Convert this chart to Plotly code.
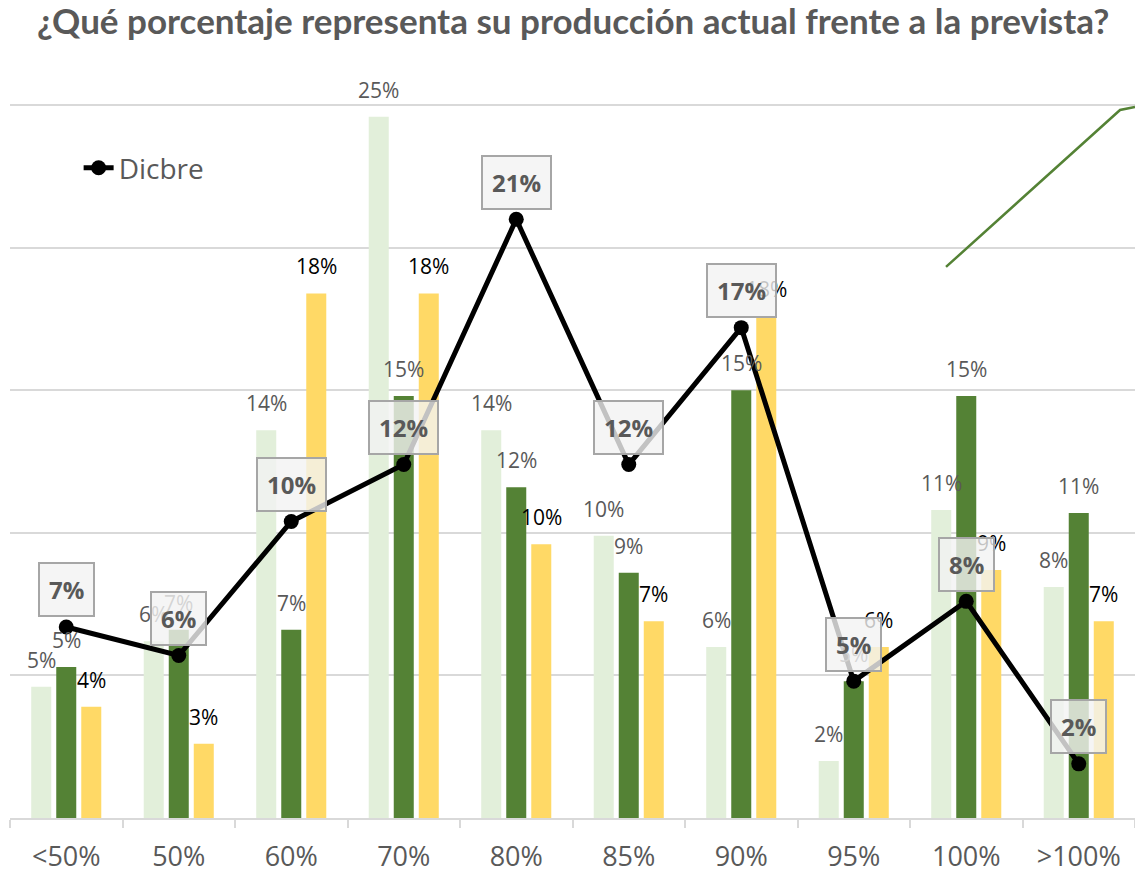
import plotly.graph_objects as go

categories = ["<50%", "50%", "60%", "70%", "80%", "85%", "90%", "95%", "100%", ">100%"]
light_green = [4.6, 6.2, 13.6, 24.6, 13.6, 9.9, 6.0, 2.0, 10.8, 8.1]
dark_green = [5.3, 6.6, 6.6, 14.8, 11.6, 8.6, 15.0, 4.8, 14.8, 10.7]
yellow = [3.9, 2.6, 18.4, 18.4, 9.6, 6.9, 17.6, 6.0, 8.7, 6.9]
dicbre = [6.7, 5.7, 10.4, 12.4, 21.0, 12.4, 17.2, 4.8, 7.6, 1.9]

C_LIGHT = "#E2EFDA"
C_DARK = "#548235"
C_YELLOW = "#FFD966"
GREY = "#595959"
FONT = "Open Sans"

fig = go.Figure()
for vals, col in [(light_green, C_LIGHT), (dark_green, C_DARK), (yellow, C_YELLOW)]:
    fig.add_trace(go.Bar(x=categories, y=vals, marker=dict(color=col, line=dict(width=0)),
                         showlegend=False, hoverinfo="skip"))

fig.add_trace(go.Scatter(x=categories, y=dicbre, mode="lines+markers", name="Dicbre",
                         line=dict(color="black", width=5),
                         marker=dict(color="black", size=15)))

annotations = []
series = [(light_green, -25, GREY), (dark_green, 0, GREY), (yellow, 25, "#000000")]
for vals, xs, col in series:
    for c, v in zip(categories, vals):
        annotations.append(dict(x=c, y=v, xref="x", yref="y", text=f"{v:.0f}%",
                                showarrow=False, xshift=xs, yshift=27, yanchor="middle",
                                font=dict(family=FONT, size=21, color=col)))
for c, v in zip(categories, dicbre):
    annotations.append(dict(x=c, y=v, xref="x", yref="y", text=f"<b>{v:.0f}%</b>",
                            showarrow=False, yshift=37, yanchor="middle",
                            font=dict(family=FONT, size=24, color=GREY),
                            bgcolor="rgba(242,242,242,0.8)", bordercolor="#A6A6A6",
                            borderwidth=2, borderpad=9))

fig.update_layout(
    width=1135, height=872,
    margin=dict(l=10, r=0, t=91, b=54),
    paper_bgcolor="white", plot_bgcolor="white",
    barmode="group", bargap=0.333, bargroupgap=0.2,
    title=dict(text="<b>¿Qué porcentaje representa su producción actual frente a la prevista?</b>",
               x=0.505, xanchor="center", y=1 - 22 / 872, yanchor="middle", yref="container",
               font=dict(family="Lato", size=35, color=GREY)),
    legend=dict(x=0.061, y=0.894, xanchor="left", yanchor="middle", bgcolor="rgba(0,0,0,0)",
                font=dict(family=FONT, size=28, color=GREY)),
    annotations=annotations,
    shapes=[dict(type="path", xref="paper", yref="paper",
                 path="M 0.832 0.758 L 0.9867 0.9739 L 1.0 0.978",
                 line=dict(color=C_DARK, width=2.5))],
    font=dict(family=FONT, color=GREY),
)
fig.update_xaxes(range=[-0.5, 9.5], showline=True, linecolor="#D9D9D9", linewidth=2, ticks="outside",
                 tickson="boundaries", ticklen=8, tickwidth=2, tickcolor="#D9D9D9",
                 tickfont=dict(family=FONT, size=27, color=GREY), ticklabelstandoff=14,
                 automargin=False, showgrid=False)
fig.update_yaxes(range=[0, 25.5], dtick=5, showgrid=True, gridcolor="#D9D9D9", gridwidth=2,
                 showticklabels=False, zeroline=False, automargin=False)

fig.write_html("out.html", config={"displayModeBar": False},
               post_script="document.body.style.margin='0';document.body.style.overflow='hidden';")
